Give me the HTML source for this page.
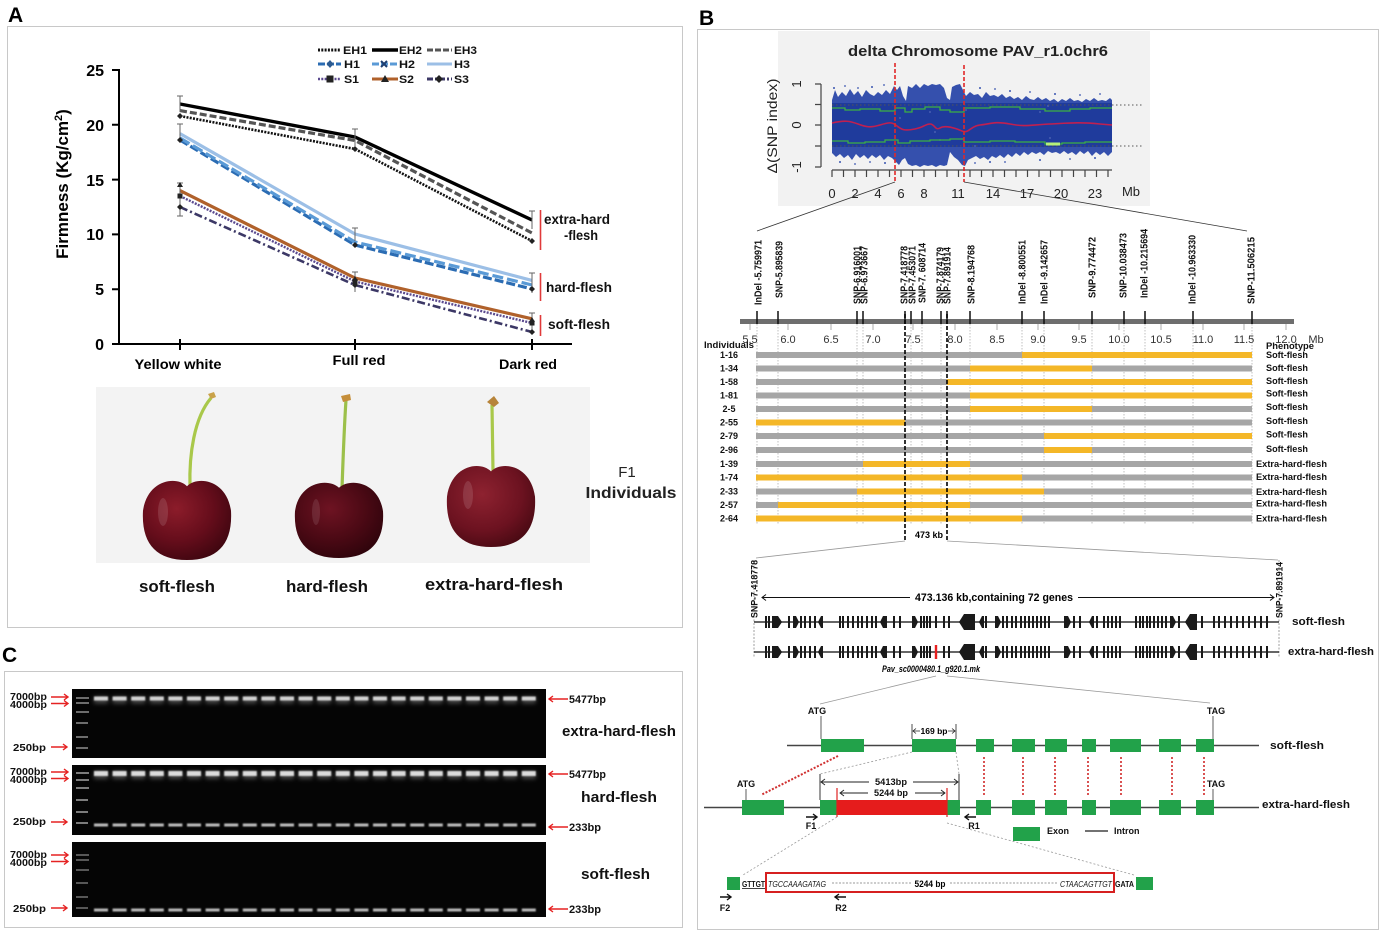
<!DOCTYPE html>
<html><head><meta charset="utf-8"><style>
html,body{margin:0;padding:0;background:#fff;}
svg{display:block;}
text{font-family:"Liberation Sans",Arial,sans-serif;}
</style></head><body>
<svg width="1380" height="931" viewBox="0 0 1380 931" xmlns="http://www.w3.org/2000/svg">
<defs>
<radialGradient id="cg1" cx="0.38" cy="0.35" r="0.75"><stop offset="0" stop-color="#8c1c2a"/><stop offset="0.55" stop-color="#650d1b"/><stop offset="1" stop-color="#3a050e"/></radialGradient>
<radialGradient id="cg2" cx="0.4" cy="0.35" r="0.75"><stop offset="0" stop-color="#6e1322"/><stop offset="0.55" stop-color="#4a0914"/><stop offset="1" stop-color="#2a030a"/></radialGradient>
<radialGradient id="cg3" cx="0.4" cy="0.35" r="0.75"><stop offset="0" stop-color="#8e2230"/><stop offset="0.6" stop-color="#6c1220"/><stop offset="1" stop-color="#420810"/></radialGradient>
<filter id="bl" x="-20%" y="-200%" width="140%" height="500%"><feGaussianBlur stdDeviation="0.8"/></filter>
<filter id="bl2" x="-20%" y="-200%" width="140%" height="500%"><feGaussianBlur stdDeviation="2.2"/></filter>
</defs>

<!-- ================= PANEL A ================= -->
<text x="8" y="22" font-size="21" font-weight="bold">A</text>
<rect x="7.5" y="26.5" width="675" height="601" fill="none" stroke="#c8c8c8"/>

<!-- legend -->
<g stroke-width="3" fill="none">
<line x1="318" y1="50" x2="341" y2="50" stroke="#111" stroke-dasharray="2,1.3"/>
<line x1="372" y1="50" x2="398" y2="50" stroke="#000" stroke-width="3.4"/>
<line x1="427" y1="50" x2="452" y2="50" stroke="#555" stroke-dasharray="6,2"/>
<line x1="318" y1="64" x2="341" y2="64" stroke="#2b6cb3" stroke-dasharray="7,2"/>
<line x1="372" y1="64" x2="398" y2="64" stroke="#5a9ad6" stroke-dasharray="7,2"/>
<line x1="427" y1="64" x2="452" y2="64" stroke="#9cbfe6"/>
<line x1="318" y1="79" x2="341" y2="79" stroke="#5b4a8f" stroke-width="2.4" stroke-dasharray="2,1.3"/>
<line x1="372" y1="79" x2="398" y2="79" stroke="#b0612b"/>
<line x1="427" y1="79" x2="452" y2="79" stroke="#3c3866" stroke-dasharray="6,2,2,2"/>
</g>
<g fill="#111">
<path d="M330 60l3.5 4-3.5 4-3.5-4z" fill="#2b5a90"/>
<path d="M381 61l6 6M387 61l-6 6" stroke="#1d3e70" stroke-width="2"/>
<rect x="326.5" y="75.5" width="7" height="7" fill="#222"/>
<path d="M385 75l4 7h-8z" fill="#222"/>
<path d="M439 75l4 4-4 4-4-4z" fill="#222"/>
</g>
<g font-size="11" font-weight="bold" fill="#111">
<text x="343" y="54" textLength="24" lengthAdjust="spacingAndGlyphs">EH1</text>
<text x="399" y="54" textLength="23" lengthAdjust="spacingAndGlyphs">EH2</text>
<text x="454" y="54" textLength="23" lengthAdjust="spacingAndGlyphs">EH3</text>
<text x="344" y="68" textLength="16" lengthAdjust="spacingAndGlyphs">H1</text>
<text x="399" y="68" textLength="16" lengthAdjust="spacingAndGlyphs">H2</text>
<text x="454" y="68" textLength="16" lengthAdjust="spacingAndGlyphs">H3</text>
<text x="344" y="83" textLength="15" lengthAdjust="spacingAndGlyphs">S1</text>
<text x="399" y="83" textLength="15" lengthAdjust="spacingAndGlyphs">S2</text>
<text x="454" y="83" textLength="15" lengthAdjust="spacingAndGlyphs">S3</text>
</g>

<!-- axes -->
<g stroke="#000" stroke-width="2" fill="none">
<line x1="119" y1="69" x2="119" y2="345"/>
<line x1="118" y1="344" x2="572" y2="344"/>
<path d="M112 70H119M112 124.8H119M112 179.6H119M112 234.4H119M112 289.2H119M112 344H119"/>
<path d="M180 339V350M355 339V350M532 339V350"/>
</g>
<g font-size="16" font-weight="bold" text-anchor="end">
<text x="104" y="76">25</text><text x="104" y="131">20</text><text x="104" y="186">15</text>
<text x="104" y="240">10</text><text x="104" y="295">5</text><text x="104" y="350">0</text>
</g>
<text transform="translate(68,184) rotate(-90)" text-anchor="middle" font-size="17" font-weight="bold">Firmness (Kg/cm<tspan dy="-6" font-size="11">2</tspan><tspan dy="6">)</tspan></text>
<g font-size="14" font-weight="bold" text-anchor="middle">
<text x="178" y="369" textLength="87" lengthAdjust="spacingAndGlyphs">Yellow white</text>
<text x="359" y="365" textLength="53" lengthAdjust="spacingAndGlyphs">Full red</text>
<text x="528" y="369" textLength="58" lengthAdjust="spacingAndGlyphs">Dark red</text>
</g>

<!-- series -->
<g fill="none" stroke-linejoin="round">
<path d="M180 207L355 285L532 332" stroke="#3c3866" stroke-width="2.6" stroke-dasharray="8,3,2,3"/>
<path d="M180 196L355 281.5L532 323" stroke="#5b4a8f" stroke-width="2.4" stroke-dasharray="2,1.3"/>
<path d="M180 190.6L355 278L532 318.8" stroke="#b0612b" stroke-width="3.2"/>
<path d="M180 140L355 245L532 289" stroke="#2b6cb3" stroke-width="3.2" stroke-dasharray="9,3"/>
<path d="M180 138L355 242L532 285" stroke="#5a9ad6" stroke-width="3.2" stroke-dasharray="11,4"/>
<path d="M180 133.6L355 234L532 280.4" stroke="#9cbfe6" stroke-width="3.2"/>
<path d="M180 116L355 149L532 241" stroke="#111" stroke-width="2.6" stroke-dasharray="2,1.3"/>
<path d="M180 110.6L355 140.5L532 233" stroke="#555" stroke-width="3.2" stroke-dasharray="7,3"/>
<path d="M180 104L355 137L532 220" stroke="#000" stroke-width="3.4"/>
</g>
<!-- error bars -->
<g stroke="#666" stroke-width="1" fill="none">
<path d="M180 96V112M177 96H183M180 124V142M177 124H183M180 183V199M177 183H183M180 199V216M177 216H183"/>
<path d="M355 129V146M352 129H358M355 228V241M352 228H358M355 272V292M352 272H358"/>
<path d="M532 211V229M529 211H535M532 273V293M529 273H535M532 313V332M529 313H535"/>
</g>
<g fill="#222">
<path d="M180 113l3 3-3 3-3-3zM355 146l3 3-3 3-3-3zM532 238l3 3-3 3-3-3zM180 137l3 3-3 3-3-3zM355 242l3 3-3 3-3-3zM532 286l3 3-3 3-3-3zM180 204l3 3-3 3-3-3zM355 282l3 3-3 3-3-3zM532 329l3 3-3 3-3-3z"/>
<path d="M177 187l6 0-3-5zM352 281l6 0-3-5zM529 322l6 0-3-5z"/>
<rect x="177.5" y="193.5" width="5" height="5"/><rect x="352.5" y="279" width="5" height="5"/><rect x="529.5" y="320.5" width="5" height="5"/>
</g>

<!-- red bars -->
<g stroke="#e03a3a" stroke-width="1.6">
<line x1="540.5" y1="210" x2="540.5" y2="250"/>
<line x1="540.5" y1="273" x2="540.5" y2="301"/>
<line x1="540.5" y1="315" x2="540.5" y2="336"/>
</g>
<g font-size="14" font-weight="bold" fill="#111">
<text x="544" y="224" textLength="66" lengthAdjust="spacingAndGlyphs">extra-hard</text>
<text x="564" y="240" textLength="34" lengthAdjust="spacingAndGlyphs">-flesh</text>
<text x="546" y="292" textLength="66" lengthAdjust="spacingAndGlyphs">hard-flesh</text>
<text x="548" y="329" textLength="62" lengthAdjust="spacingAndGlyphs">soft-flesh</text>
</g>

<!-- cherry photo -->
<rect x="96" y="387" width="494" height="176" fill="#f3f3f3"/>
<!-- soft -->
<path d="M190 487C189 455 194 418 211 398" stroke="#a9c84a" stroke-width="3.2" fill="none"/>
<path d="M208 394l6-2 2 5-5 2z" fill="#c9a24a"/>
<path d="M187,486.2 C176.4,475.5 147.4,479.6 143,510.8 C141.2,543.6 156.2,560 187,560 C217.8,560 232.8,543.6 231,510.8 C226.6,479.6 197.6,475.5 187,486.2 Z" fill="url(#cg1)"/>
<ellipse cx="163" cy="512" rx="5" ry="14" fill="#fff" opacity="0.12"/>
<!-- hard -->
<path d="M342 489C343 460 344 430 346 400" stroke="#9cc04a" stroke-width="3.2" fill="none"/>
<path d="M341 396l9-2 1 6-8 2z" fill="#c58e3a"/>
<path d="M339,487.8 C328.4,477.7 299.4,481.6 295,511.2 C293.2,542.4 308.2,558 339,558 C369.8,558 384.8,542.4 383,511.2 C378.6,481.6 349.6,477.7 339,487.8 Z" fill="url(#cg2)"/>
<ellipse cx="316" cy="512" rx="4" ry="13" fill="#fff" opacity="0.1"/>
<!-- extra -->
<path d="M493 471L492 405" stroke="#a9c84a" stroke-width="3.2" fill="none"/>
<path d="M487 402l7-6 5 7-5 4z" fill="#b7843a"/>
<path d="M491,471.4 C480.4,460.5 451.4,464.7 447,496.6 C445.2,530.2 460.2,547 491,547 C521.8,547 536.8,530.2 535,496.6 C530.6,464.7 501.6,460.5 491,471.4 Z" fill="url(#cg3)"/>
<ellipse cx="468" cy="495" rx="5" ry="14" fill="#fff" opacity="0.12"/>
<g font-size="17" font-weight="bold" text-anchor="middle" fill="#111">
<text x="177" y="592" textLength="76" lengthAdjust="spacingAndGlyphs">soft-flesh</text>
<text x="327" y="592" textLength="82" lengthAdjust="spacingAndGlyphs">hard-flesh</text>
<text x="494" y="590" textLength="138" lengthAdjust="spacingAndGlyphs">extra-hard-flesh</text>
</g>
<text x="627" y="477" font-size="15" text-anchor="middle" fill="#222">F1</text>
<text x="631" y="498" font-size="16" font-weight="bold" text-anchor="middle" fill="#222" textLength="91" lengthAdjust="spacingAndGlyphs">Individuals</text>

<!-- ================= PANEL C ================= -->
<text x="2" y="662" font-size="21" font-weight="bold">C</text>
<rect x="4.5" y="671.5" width="678" height="256" fill="none" stroke="#c8c8c8"/>
<rect x="72" y="689" width="474" height="69" fill="#050505"/>
<rect x="72" y="765" width="474" height="70" fill="#050505"/>
<rect x="72" y="842" width="474" height="75" fill="#050505"/>
<!-- ladder -->
<g stroke="#9a9a9a" stroke-width="2">
<path d="M76 698H89M76 703H89M76 712H89M76 723H88M76 737H88M76 748H88" opacity="0.7"/>
<path d="M76 773H89M76 780H89M76 788H89M76 800H88M76 812H88M76 823H88" opacity="0.8"/>
<path d="M76 855H89M76 860H89M76 870H89M76 883H88M76 897H88M76 908H88" opacity="0.55"/>
</g>
<!-- sample bands -->
<g filter="url(#bl2)" opacity="0.4">
<line x1="94" y1="700" x2="540" y2="700" stroke="#aaa" stroke-width="7" stroke-dasharray="14 4.6"/>
<line x1="94" y1="775" x2="540" y2="775" stroke="#aaa" stroke-width="8" stroke-dasharray="14 4.6"/>
</g>
<g filter="url(#bl)">
<line x1="94" y1="698.5" x2="540" y2="698.5" stroke="#d2d2d2" stroke-width="4" stroke-dasharray="14 4.6"/>
<line x1="94" y1="773.5" x2="540" y2="773.5" stroke="#dcdcdc" stroke-width="5" stroke-dasharray="14 4.6"/>
<line x1="94" y1="825" x2="540" y2="825" stroke="#bdbdbd" stroke-width="3" stroke-dasharray="14 4.6"/>
<line x1="94" y1="910" x2="540" y2="910" stroke="#b8b8b8" stroke-width="3" stroke-dasharray="14 4.6"/>
</g>
<!-- left labels -->
<g font-size="10" font-weight="bold" fill="#111">
<text x="10" y="700" textLength="37" lengthAdjust="spacingAndGlyphs">7000bp</text>
<text x="10" y="708" textLength="37" lengthAdjust="spacingAndGlyphs">4000bp</text>
<text x="13" y="751" textLength="33" lengthAdjust="spacingAndGlyphs">250bp</text>
<text x="10" y="775" textLength="37" lengthAdjust="spacingAndGlyphs">7000bp</text>
<text x="10" y="783" textLength="37" lengthAdjust="spacingAndGlyphs">4000bp</text>
<text x="13" y="825" textLength="33" lengthAdjust="spacingAndGlyphs">250bp</text>
<text x="10" y="858" textLength="37" lengthAdjust="spacingAndGlyphs">7000bp</text>
<text x="10" y="866" textLength="37" lengthAdjust="spacingAndGlyphs">4000bp</text>
<text x="13" y="912" textLength="33" lengthAdjust="spacingAndGlyphs">250bp</text>
</g>
<g stroke="#e52222" stroke-width="1.4" fill="none">
<path d="M51 697H68M64 694L68 697L64 700M51 703.5H68M64 700.5L68 703.5L64 706.5"/>
<path d="M51 747H67M63 744L67 747L63 750"/>
<path d="M51 772H68M64 769L68 772L64 775M51 778.5H68M64 775.5L68 778.5L64 781.5"/>
<path d="M51 822H67M63 819L67 822L63 825"/>
<path d="M51 855H68M64 852L68 855L64 858M51 861.5H68M64 858.5L68 861.5L64 864.5"/>
<path d="M51 908H67M63 905L67 908L63 911"/>
<path d="M568 699H549M553 696L549 699L553 702"/>
<path d="M568 774H549M553 771L549 774L553 777"/>
<path d="M568 827H549M553 824L549 827L553 830"/>
<path d="M568 909H549M553 906L549 909L553 912"/>
</g>
<g font-size="11" font-weight="bold" fill="#111">
<text x="569" y="703" textLength="37" lengthAdjust="spacingAndGlyphs">5477bp</text>
<text x="569" y="778" textLength="37" lengthAdjust="spacingAndGlyphs">5477bp</text>
<text x="569" y="831" textLength="32" lengthAdjust="spacingAndGlyphs">233bp</text>
<text x="569" y="913" textLength="32" lengthAdjust="spacingAndGlyphs">233bp</text>
</g>
<g font-size="15" font-weight="bold" fill="#111">
<text x="562" y="736" textLength="114" lengthAdjust="spacingAndGlyphs">extra-hard-flesh</text>
<text x="581" y="802" textLength="76" lengthAdjust="spacingAndGlyphs">hard-flesh</text>
<text x="581" y="879" textLength="69" lengthAdjust="spacingAndGlyphs">soft-flesh</text>
</g>

<!-- ================= PANEL B ================= -->
<text x="699" y="25" font-size="21" font-weight="bold">B</text>
<rect x="697.5" y="29.5" width="681" height="900" fill="none" stroke="#c8c8c8"/>

<!-- SNP plot -->
<rect x="778" y="31" width="372" height="175" fill="#f2f2f2"/>
<text x="978" y="56" font-size="15" font-weight="bold" text-anchor="middle" fill="#222" textLength="260" lengthAdjust="spacingAndGlyphs">delta Chromosome PAV_r1.0chr6</text>
<g stroke="#444" stroke-width="1.2" fill="none">
<path d="M821 84V167M815 84H821M815 104.5H821M815 125H821M815 146H821M815 167H821"/>
<path d="M832 170H1112"/>
<path d="M832 170v7M843.5 170v7M855 170v7M866.5 170v7M878 170v7M889.5 170v7M901 170v7M912.5 170v7M924 170v7M935.5 170v7M947 170v7M958.5 170v7M970 170v7M981.5 170v7M993 170v7M1004.5 170v7M1016 170v7M1027.5 170v7M1039 170v7M1050.5 170v7M1062 170v7M1073.5 170v7M1085 170v7M1096.5 170v7M1108 170v7"/>
</g>
<g font-size="13" fill="#222">
<text transform="translate(801,84) rotate(-90)" text-anchor="middle">1</text>
<text transform="translate(801,125) rotate(-90)" text-anchor="middle">0</text>
<text transform="translate(801,167) rotate(-90)" text-anchor="middle">-1</text>
<text transform="translate(777,126) rotate(-90)" text-anchor="middle" font-size="14" textLength="95" lengthAdjust="spacingAndGlyphs">Δ(SNP index)</text>
</g>
<g font-size="13" fill="#222" text-anchor="middle">
<text x="832" y="198">0</text><text x="855" y="198">2</text><text x="878" y="198">4</text><text x="901" y="198">6</text><text x="924" y="198">8</text><text x="958" y="198">11</text><text x="993" y="198">14</text><text x="1027" y="198">17</text><text x="1061" y="198">20</text><text x="1095" y="198">23</text><text x="1131" y="196">Mb</text>
</g>
<!-- scatter -->
<polygon fill="#3550ad" points="832,100 835,90 838,97 842,92 846,96 850,89 854,95 858,91 862,97 866,90 870,94 874,96 878,92 882,95 886,90 890,94 894,86 897,90 900,86 903,96 906,101 908,86 912,88 916,84 920,88 924,84 928,86 932,84 936,85 940,84 944,88 947,98 950,100 952,87 956,85 960,84 963,90 966,96 970,92 974,95 978,94 982,98 986,92 990,96 994,95 998,97 1002,94 1006,98 1010,96 1014,99 1018,97 1022,100 1026,96 1030,99 1034,100 1038,97 1042,100 1046,98 1050,101 1054,99 1058,102 1062,99 1066,101 1070,98 1074,101 1078,100 1082,102 1086,99 1090,101 1094,98 1098,101 1102,100 1106,101 1110,98 1112,100 1112,152 1108,156 1104,152 1100,155 1096,152 1092,156 1088,151 1084,154 1080,151 1076,155 1072,152 1068,154 1064,151 1060,154 1056,152 1052,153 1048,151 1044,155 1040,152 1036,154 1032,152 1028,155 1024,152 1020,156 1016,153 1012,157 1008,154 1004,158 1000,155 996,158 992,156 988,160 984,157 980,159 976,156 972,158 968,160 965,166 962,165 958,160 954,157 950,152 947,165 944,166 940,165 936,167 932,165 928,166 924,165 920,167 916,165 912,166 908,164 905,158 902,160 899,165 896,162 892,158 888,156 884,160 880,155 876,158 872,155 868,159 864,155 860,158 856,154 852,160 848,155 844,158 840,154 836,157 832,153"/>
<rect x="832" y="103" width="280" height="44" fill="#1f3b9c"/>
<g fill="#6a7cc4" opacity="0.7">
<circle cx="900" cy="118" r="0.9"/><circle cx="935" cy="132" r="0.9"/><circle cx="940" cy="140" r="0.9"/><circle cx="930" cy="112" r="0.9"/><circle cx="975" cy="146" r="0.9"/><circle cx="1040" cy="112" r="0.9"/><circle cx="1048" cy="106" r="0.9"/><circle cx="1050" cy="138" r="0.9"/><circle cx="966" cy="110" r="0.9"/>
</g>
<g fill="#3a55b0">
<circle cx="834" cy="88" r="1"/><circle cx="845" cy="86" r="0.9"/><circle cx="858" cy="88" r="0.9"/><circle cx="872" cy="87" r="1"/><circle cx="884" cy="85" r="0.9"/><circle cx="980" cy="88" r="1"/><circle cx="995" cy="89" r="0.9"/><circle cx="1010" cy="91" r="1"/><circle cx="1030" cy="92" r="0.9"/><circle cx="1055" cy="94" r="1"/><circle cx="1080" cy="95" r="0.9"/><circle cx="1100" cy="94" r="0.9"/>
<circle cx="840" cy="162" r="1"/><circle cx="855" cy="164" r="0.9"/><circle cx="870" cy="162" r="0.9"/><circle cx="885" cy="163" r="1"/><circle cx="975" cy="163" r="0.9"/><circle cx="990" cy="162" r="1"/><circle cx="1005" cy="162" r="0.9"/><circle cx="1040" cy="160" r="1"/><circle cx="1070" cy="159" r="0.9"/><circle cx="1095" cy="158" r="1"/>
</g>
<g stroke="#555" stroke-width="1" stroke-dasharray="1.5,2.5">
<line x1="832" y1="105" x2="1143" y2="105"/><line x1="832" y1="146" x2="1143" y2="146"/>
</g>
<path d="M832 108H845V110H860V109H880V111H895V108H905V112H912V109H925V107H940V110H950V112H964V108H990V107H1020V109H1045V111H1070V109H1090V108H1112" stroke="#3cb043" stroke-width="1.3" fill="none"/>
<path d="M832 141H848V143H865V142H885V140H898V143H910V141H930V140H950V139H964V142H990V141H1015V142H1045V144H1062V143H1085V142H1112" stroke="#3cb043" stroke-width="1.3" fill="none"/>
<path d="M1046 144H1060" stroke="#b4f07a" stroke-width="3"/>
<path d="M832 123C845 120 850 121 858 124S870 128 880 125S892 122 897 126S905 131 915 129S925 124 930 124S935 131 940 128S955 128 962 131S970 126 980 125S995 121 1010 124S1030 125 1050 124S1080 122 1100 124L1112 125" stroke="#c02050" stroke-width="1.6" fill="none"/>
<g stroke="#e02828" stroke-width="1.6" stroke-dasharray="4,2">
<line x1="895" y1="63" x2="895" y2="182"/><line x1="964" y1="65" x2="964" y2="182"/>
</g>
<g stroke="#333" stroke-width="0.8">
<line x1="895" y1="182" x2="757" y2="231"/><line x1="964" y1="182" x2="1247" y2="231"/>
</g>

<!-- marker labels -->
<g font-size="10" font-weight="bold" fill="#111">
<text transform="translate(761.5,305) rotate(-90)" textLength="65" lengthAdjust="spacingAndGlyphs">InDel -5.759971</text>
<text transform="translate(782.5,298) rotate(-90)" textLength="57" lengthAdjust="spacingAndGlyphs">SNP-5.895839</text>
<text transform="translate(860.5,304) rotate(-90)" textLength="58" lengthAdjust="spacingAndGlyphs">SNP-6.916001</text>
<text transform="translate(867.5,304) rotate(-90)" textLength="58" lengthAdjust="spacingAndGlyphs">SNP-6.973667</text>
<text transform="translate(907.5,304) rotate(-90)" textLength="58" lengthAdjust="spacingAndGlyphs">SNP-7.418778</text>
<text transform="translate(915.5,304) rotate(-90)" textLength="58" lengthAdjust="spacingAndGlyphs">SNP-7.453071</text>
<text transform="translate(925.5,303) rotate(-90)" textLength="60" lengthAdjust="spacingAndGlyphs">SNP-7. 608714</text>
<text transform="translate(943.5,304) rotate(-90)" textLength="57" lengthAdjust="spacingAndGlyphs">SNP-7.874179</text>
<text transform="translate(950.5,304) rotate(-90)" textLength="57" lengthAdjust="spacingAndGlyphs">SNP-7.891914</text>
<text transform="translate(974.5,304) rotate(-90)" textLength="59" lengthAdjust="spacingAndGlyphs">SNP-8.194768</text>
<text transform="translate(1025.5,304) rotate(-90)" textLength="64" lengthAdjust="spacingAndGlyphs">InDel -8.800551</text>
<text transform="translate(1047.5,304) rotate(-90)" textLength="64" lengthAdjust="spacingAndGlyphs">InDel -9.142657</text>
<text transform="translate(1095.5,298) rotate(-90)" textLength="61" lengthAdjust="spacingAndGlyphs">SNP-9.774472</text>
<text transform="translate(1126.5,298) rotate(-90)" textLength="65" lengthAdjust="spacingAndGlyphs">SNP-10.038473</text>
<text transform="translate(1147.5,298) rotate(-90)" textLength="69" lengthAdjust="spacingAndGlyphs">InDel -10.215694</text>
<text transform="translate(1195.5,304) rotate(-90)" textLength="69" lengthAdjust="spacingAndGlyphs">InDel -10.963330</text>
<text transform="translate(1254.5,304) rotate(-90)" textLength="67" lengthAdjust="spacingAndGlyphs">SNP-11.506215</text>
</g>
<!-- guide lines -->
<g stroke="#b0b0b0" stroke-width="0.8" stroke-dasharray="1.5,1.5">
<path d="M757 324V525M778 324V525M857 324V525M863 324V525M911 324V525M922 324V525M941 324V525M970 324V525M1022 324V525M1044 324V525M1092 324V525M1124 324V525M1145 324V525M1193 324V525M1252 324V525"/>
</g>
<rect x="740" y="319" width="554" height="5" fill="#6e6e6e"/>
<g stroke="#111" stroke-width="1.5">
<path d="M757 311V324M778 311V324M857 311V324M863 311V324M905 311V324M911 311V324M922 311V324M941 311V324M947 311V324M970 311V324M1022 311V324M1044 311V324M1092 311V324M1124 311V324M1145 311V324M1193 311V324M1252 311V324"/>
</g>
<g stroke="#999" stroke-width="0.8">
<path d="M750 324V330M788 324V330M831 324V330M873 324V330M913 324V330M955 324V330M997 324V330M1038 324V330M1079 324V330M1119 324V330M1161 324V330M1203 324V330M1244 324V330M1286 324V330"/>
</g>
<g font-size="11" fill="#333" text-anchor="middle">
<text x="750" y="343">5.5</text><text x="788" y="343">6.0</text><text x="831" y="343">6.5</text><text x="873" y="343">7.0</text><text x="913" y="343">7.5</text><text x="955" y="343">8.0</text><text x="997" y="343">8.5</text><text x="1038" y="343">9.0</text><text x="1079" y="343">9.5</text><text x="1119" y="343">10.0</text><text x="1161" y="343">10.5</text><text x="1203" y="343">11.0</text><text x="1244" y="343">11.5</text><text x="1286" y="343">12.0</text><text x="1316" y="343">Mb</text>
</g>
<g font-size="9" font-weight="bold" fill="#111">
<text x="704" y="348" textLength="50" lengthAdjust="spacingAndGlyphs">Individuals</text>
<text x="1266" y="349" textLength="48" lengthAdjust="spacingAndGlyphs">Phenotype</text>
</g>

<!-- rows -->
<g fill="#a6a6a6">
<rect x="756" y="352" width="496" height="6"/><rect x="756" y="365.5" width="496" height="6"/><rect x="756" y="379" width="496" height="6"/><rect x="756" y="392.5" width="496" height="6"/><rect x="756" y="406" width="496" height="6"/><rect x="756" y="419.5" width="496" height="6"/><rect x="756" y="433" width="496" height="6"/><rect x="756" y="447" width="496" height="6"/><rect x="756" y="461" width="496" height="6"/><rect x="756" y="474.5" width="496" height="6"/><rect x="756" y="488.5" width="496" height="6"/><rect x="756" y="502" width="496" height="6"/><rect x="756" y="515.5" width="496" height="6"/>
</g>
<g fill="#f4b728">
<rect x="1022" y="352" width="230" height="6"/>
<rect x="970" y="365.5" width="122" height="6"/>
<rect x="947" y="379" width="305" height="6"/>
<rect x="970" y="392.5" width="282" height="6"/>
<rect x="970" y="406" width="122" height="6"/>
<rect x="756" y="419.5" width="149" height="6"/>
<rect x="1044" y="433" width="208" height="6"/>
<rect x="1044" y="447" width="48" height="6"/>
<rect x="863" y="461" width="107" height="6"/>
<rect x="756" y="474.5" width="266" height="6"/>
<rect x="857" y="488.5" width="187" height="6"/>
<rect x="778" y="502" width="192" height="6"/>
<rect x="756" y="515.5" width="266" height="6"/>
</g>
<g font-size="9" font-weight="bold" fill="#111" text-anchor="middle">
<text x="729" y="358">1-16</text><text x="729" y="371.5">1-34</text><text x="729" y="385">1-58</text><text x="729" y="398.5">1-81</text><text x="729" y="412">2-5</text><text x="729" y="425.5">2-55</text><text x="729" y="439">2-79</text><text x="729" y="453">2-96</text><text x="729" y="467">1-39</text><text x="729" y="480.5">1-74</text><text x="729" y="494.5">2-33</text><text x="729" y="508">2-57</text><text x="729" y="521.5">2-64</text>
</g>
<g font-size="9" font-weight="bold" fill="#111">
<text x="1266" y="358" textLength="42" lengthAdjust="spacingAndGlyphs">Soft-flesh</text>
<text x="1266" y="371" textLength="42" lengthAdjust="spacingAndGlyphs">Soft-flesh</text>
<text x="1266" y="384" textLength="42" lengthAdjust="spacingAndGlyphs">Soft-flesh</text>
<text x="1266" y="396.5" textLength="42" lengthAdjust="spacingAndGlyphs">Soft-flesh</text>
<text x="1266" y="410" textLength="42" lengthAdjust="spacingAndGlyphs">Soft-flesh</text>
<text x="1266" y="424" textLength="42" lengthAdjust="spacingAndGlyphs">Soft-flesh</text>
<text x="1266" y="437.5" textLength="42" lengthAdjust="spacingAndGlyphs">Soft-flesh</text>
<text x="1266" y="452" textLength="42" lengthAdjust="spacingAndGlyphs">Soft-flesh</text>
<text x="1256" y="467" textLength="71" lengthAdjust="spacingAndGlyphs">Extra-hard-flesh</text>
<text x="1256" y="480" textLength="71" lengthAdjust="spacingAndGlyphs">Extra-hard-flesh</text>
<text x="1256" y="495" textLength="71" lengthAdjust="spacingAndGlyphs">Extra-hard-flesh</text>
<text x="1256" y="506.5" textLength="71" lengthAdjust="spacingAndGlyphs">Extra-hard-flesh</text>
<text x="1256" y="521.5" textLength="71" lengthAdjust="spacingAndGlyphs">Extra-hard-flesh</text>
</g>
<g stroke="#000" stroke-width="1.6" stroke-dasharray="4,2">
<line x1="905" y1="314" x2="905" y2="541"/><line x1="947" y1="314" x2="947" y2="541"/>
</g>
<text x="929" y="538" font-size="9" font-weight="bold" text-anchor="middle" textLength="28" lengthAdjust="spacingAndGlyphs">473 kb</text>
<g stroke="#999" stroke-width="0.8">
<line x1="905" y1="541" x2="756" y2="558"/><line x1="947" y1="541" x2="1278" y2="560"/>
</g>

<!-- gene region -->
<g stroke="#888" stroke-width="0.8" stroke-dasharray="2,1.5">
<line x1="754" y1="560" x2="754" y2="658"/><line x1="1279" y1="560" x2="1279" y2="658"/>
</g>
<g font-size="9" font-weight="bold" fill="#111">
<text transform="translate(757.5,618) rotate(-90)" textLength="58" lengthAdjust="spacingAndGlyphs">SNP-7.418778</text>
<text transform="translate(1282.5,618) rotate(-90)" textLength="56" lengthAdjust="spacingAndGlyphs">SNP-7.891914</text>
</g>
<g stroke="#111" stroke-width="1" fill="none">
<path d="M762 597.5H910M1078 597.5H1274M766 594.5L762 597.5L766 600.5M1270 594.5L1274 597.5L1270 600.5"/>
</g>
<text x="994" y="601" font-size="11" font-weight="bold" text-anchor="middle" textLength="158" lengthAdjust="spacingAndGlyphs">473.136 kb,containing 72 genes</text>

<g id="trk1" transform="translate(0,622)">
<line x1="754" y1="0" x2="1279" y2="0" stroke="#333" stroke-width="1.5"/>
<path stroke="#1a1a1a" stroke-width="2" d="M766 -6v12M769 -6v12M789 -6v12M801 -6v12M805 -6v12M810 -6v12M815 -6v12M840 -6v12M843 -6v12M848 -6v12M853 -6v12M858 -6v12M862 -6v12M867 -6v12M872 -6v12M876 -6v12M886 -6v12M894 -6v12M900 -6v12M921 -6v12M924 -6v12M927 -6v12M930 -6v12M944 -6v12M949 -6v12M986 -6v12M1003 -6v12M1007 -6v12M1012 -6v12M1016 -6v12M1021 -6v12M1025 -6v12M1029 -6v12M1033 -6v12M1037 -6v12M1041 -6v12M1045 -6v12M1049 -6v12M1074 -6v12M1080 -6v12M1097 -6v12M1104 -6v12M1108 -6v12M1112 -6v12M1116 -6v12M1120 -6v12M1136 -6v12M1140 -6v12M1143 -6v12M1147 -6v12M1150 -6v12M1154 -6v12M1158 -6v12M1162 -6v12M1166 -6v12M1179 -6v12M1202 -6v12M1214 -6v12M1219 -6v12M1225 -6v12M1231 -6v12M1237 -6v12M1243 -6v12M1249 -6v12M1255 -6v12M1261 -6v12M1267 -6v12"/>
<path fill="#1a1a1a" d="M772 -6h6l4 6-4 6h-6zM793 -6h3l3 6-3 6h-3zM912 -6h3l3 6-3 6h-3zM995 -6h3l3 6-3 6h-3zM1064 -6h4l3 6-3 6h-4zM1170 -6h3l3 6-3 6h-3zM821 -6h2v12h-2l-3-6zM883 -6h2v12h-2l-3-6zM982 -6h2v12h-2l-3-6zM1092 -6h2v12h-2l-3-6zM964 -8h11v16h-11l-5-8zM1190 -8h7v16h-7l-5-8z"/>
</g>
<g transform="translate(0,30)"><use href="#trk1"/></g>
<line x1="936" y1="616" x2="936" y2="628" stroke="#1a1a1a" stroke-width="2"/>
<line x1="936" y1="645" x2="936" y2="659" stroke="#e82020" stroke-width="2.4"/>
<g font-size="11" font-weight="bold" fill="#111">
<text x="1292" y="625" textLength="53" lengthAdjust="spacingAndGlyphs">soft-flesh</text>
<text x="1288" y="655" textLength="86" lengthAdjust="spacingAndGlyphs">extra-hard-flesh</text>
</g>
<text x="931" y="672" font-size="9" font-weight="bold" font-style="italic" text-anchor="middle" textLength="98" lengthAdjust="spacingAndGlyphs">Pav_sc0000480.1_g920.1.mk</text>
<g stroke="#999" stroke-width="0.8">
<line x1="936" y1="676" x2="820" y2="704"/><line x1="947" y1="676" x2="1210" y2="703"/>
</g>

<!-- gene structure -->
<g font-size="9" font-weight="bold" fill="#111" text-anchor="middle">
<text x="817" y="714">ATG</text><text x="1216" y="714">TAG</text>
<text x="746" y="787">ATG</text><text x="1216" y="787">TAG</text>
</g>
<g stroke="#333" stroke-width="0.8">
<line x1="821" y1="716" x2="821" y2="739"/><line x1="1213" y1="716" x2="1213" y2="739"/>
<line x1="746" y1="789" x2="746" y2="800"/><line x1="1213" y1="789" x2="1213" y2="800"/>
</g>
<line x1="787" y1="745.5" x2="1259" y2="745.5" stroke="#444" stroke-width="1.5"/>
<line x1="704" y1="807.5" x2="1259" y2="807.5" stroke="#444" stroke-width="1.5"/>
<g fill="#22a24a">
<rect x="821" y="739" width="43" height="13"/><rect x="912" y="739" width="44" height="13"/><rect x="976" y="739" width="18" height="13"/><rect x="1012" y="739" width="23" height="13"/><rect x="1045" y="739" width="22" height="13"/><rect x="1082" y="739" width="14" height="13"/><rect x="1110" y="739" width="31" height="13"/><rect x="1159" y="739" width="22" height="13"/><rect x="1196" y="739" width="18" height="13"/>
<rect x="742" y="800" width="42" height="15"/><rect x="820" y="800" width="17" height="15"/><rect x="947" y="800" width="13" height="15"/><rect x="976" y="800" width="15" height="15"/><rect x="1012" y="800" width="23" height="15"/><rect x="1045" y="800" width="22" height="15"/><rect x="1082" y="800" width="14" height="15"/><rect x="1110" y="800" width="31" height="15"/><rect x="1159" y="800" width="22" height="15"/><rect x="1196" y="800" width="18" height="15"/>
</g>
<rect x="837" y="800" width="110" height="15" fill="#e51c1c"/>
<g font-size="11" font-weight="bold" fill="#111">
<text x="1270" y="749" textLength="54" lengthAdjust="spacingAndGlyphs">soft-flesh</text>
<text x="1262" y="808" textLength="88" lengthAdjust="spacingAndGlyphs">extra-hard-flesh</text>
</g>
<!-- 169 bp -->
<g stroke="#222" stroke-width="0.8" fill="none">
<path d="M912 724V739M956 724V739M913 731H920M948 731H955M916 728.5L913 731L916 733.5M952 728.5L955 731L952 733.5"/>
</g>
<text x="934" y="734" font-size="8" font-weight="bold" text-anchor="middle" textLength="27" lengthAdjust="spacingAndGlyphs">169 bp</text>
<!-- dotted connectors -->
<line x1="838" y1="756" x2="761" y2="795" stroke="#d03030" stroke-width="2" stroke-dasharray="2,1.6"/>
<g stroke="#999" stroke-width="0.8" stroke-dasharray="2,2">
<line x1="912" y1="752" x2="820" y2="774"/><line x1="956" y1="752" x2="959" y2="774"/>
<line x1="837" y1="817" x2="743" y2="875"/><line x1="947" y1="823" x2="1134" y2="875"/>
</g>
<g stroke="#d02828" stroke-width="1.6" stroke-dasharray="2,2">
<path d="M984 757V795M1023 757V795M1055 757V795M1088 757V795M1121 757V795M1172 757V795M1204 757V795"/>
</g>
<!-- 5413 / 5244 arrows -->
<g stroke="#222" stroke-width="0.9" fill="none">
<path d="M820 774V800M959 774V800"/>
<path d="M821 782H869M913 782H958M825 779L821 782L825 785M954 779L958 782L954 785"/>
<path d="M840 793H868M915 793H945M844 790L840 793L844 796M941 790L945 793L941 796"/>
</g>
<g stroke="#e02020" stroke-width="1.2"><line x1="837" y1="788" x2="837" y2="817"/><line x1="947" y1="788" x2="947" y2="817"/></g>
<g font-size="9" font-weight="bold" text-anchor="middle" fill="#111">
<text x="891" y="785" textLength="32" lengthAdjust="spacingAndGlyphs">5413bp</text>
<text x="891" y="796" textLength="34" lengthAdjust="spacingAndGlyphs">5244 bp</text>
<text x="811" y="829">F1</text><text x="974" y="829">R1</text>
<text x="725" y="911">F2</text><text x="841" y="911">R2</text>
</g>
<g stroke="#111" stroke-width="1.4" fill="none">
<path d="M806 817H817M813 814L817 817L813 820"/>
<path d="M976 817H965M969 814L965 817L969 820"/>
<path d="M720 897H731M727 894L731 897L727 900"/>
<path d="M846 897H835M839 894L835 897L839 900"/>
</g>
<rect x="1013" y="827" width="27" height="14" fill="#22a24a"/>
<line x1="1085" y1="831" x2="1108" y2="831" stroke="#444" stroke-width="1.5"/>
<g font-size="9" font-weight="bold" fill="#111">
<text x="1047" y="834">Exon</text><text x="1114" y="834">Intron</text>
</g>
<!-- bottom sequence -->
<rect x="727" y="877" width="13" height="13" fill="#22a24a"/>
<rect x="1136" y="877" width="17" height="13" fill="#22a24a"/>
<rect x="766" y="873" width="348" height="19" fill="none" stroke="#d62020" stroke-width="2"/>
<g font-size="8" fill="#111">
<text x="742" y="887" font-weight="bold" text-decoration="underline" textLength="23" lengthAdjust="spacingAndGlyphs">GTTGT</text>
<text x="768" y="887" font-style="italic" textLength="58" lengthAdjust="spacingAndGlyphs">TGCCAAAGATAG</text>
<text x="1112" y="887" font-style="italic" text-anchor="end" textLength="52" lengthAdjust="spacingAndGlyphs">CTAACAGTTGT</text>
<text x="1115" y="887" font-weight="bold" textLength="19" lengthAdjust="spacingAndGlyphs">GATA</text>
</g>
<g stroke="#777" stroke-width="0.8" stroke-dasharray="2,1.5">
<line x1="832" y1="883" x2="912" y2="883"/><line x1="950" y1="883" x2="1058" y2="883"/>
</g>
<text x="930" y="887" font-size="9" font-weight="bold" text-anchor="middle" textLength="31" lengthAdjust="spacingAndGlyphs">5244 bp</text>
</svg>
</body></html>
